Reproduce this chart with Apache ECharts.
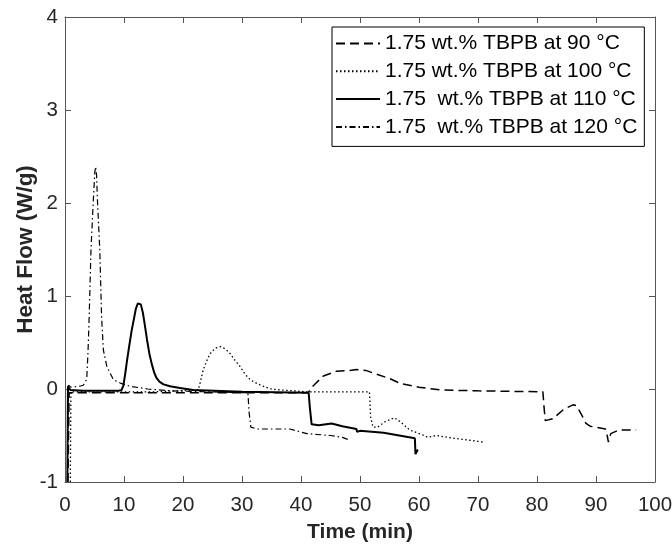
<!DOCTYPE html>
<html>
<head>
<meta charset="utf-8">
<script src="https://cdn.jsdelivr.net/npm/echarts@6/dist/echarts.min.js"></script>
<style>
html,body{margin:0;padding:0;background:#fff;}
#chart{width:672px;height:544px;}
</style>
</head>
<body>
<div id="chart"></div>
<script>
// Tick values
var xTicks = [0, 10, 20, 30, 40, 50, 60, 70, 80, 90, 100];
var yTicks = [-1, 0, 1, 2, 3, 4];

var seriesNames = [
  '1.75 wt.% TBPB at 90 \u00B0C',
  '1.75 wt.% TBPB at 100 \u00B0C',
  '1.75  wt.% TBPB at 110 \u00B0C',
  '1.75  wt.% TBPB at 120 \u00B0C'
];

// [time (min), heat flow (W/g)]
var data90 = [[0.5,-1],[0.7,-0.04],[5,-0.04],[20,-0.04],[41.2,-0.04],[42,0.03],[43.8,0.14],[46,0.19],[48.3,0.2],[49.4,0.21],[51,0.2],[52.3,0.17],[55.1,0.11],[56.8,0.06],[60,0.02],[63.6,-0.01],[70,-0.02],[81,-0.03],[81.2,-0.2],[81.4,-0.34],[82.7,-0.32],[84.5,-0.22],[86.1,-0.17],[86.7,-0.18],[87.5,-0.27],[88.3,-0.37],[89,-0.4],[91.6,-0.43],[91.9,-0.5],[92.1,-0.57],[92.5,-0.48],[93.9,-0.44],[96.8,-0.44]];

var data100 = [[0.9,-1],[1.0,-0.03],[5,-0.03],[15,-0.03],[22.6,-0.01],[23.0,0.09],[23.4,0.2],[24.0,0.3],[24.6,0.38],[25.5,0.44],[26.4,0.455],[27.2,0.43],[28,0.38],[28.8,0.31],[29.7,0.24],[30.5,0.16],[31.4,0.1],[32.5,0.06],[33.6,0.03],[35,0.0],[36.4,-0.01],[41,-0.03],[51.6,-0.03],[51.8,-0.3],[52.2,-0.41],[53,-0.41],[54.3,-0.35],[55.8,-0.31],[56.8,-0.35],[58.4,-0.44],[60.9,-0.5],[61.5,-0.52],[62.9,-0.5],[66,-0.53],[70.8,-0.57]];

var data110 = [[0.4,-1],[0.5,0.03],[0.9,-0.01],[3,-0.02],[9,-0.02],[9.6,-0.01],[9.9,0.04],[10.2,0.16],[10.5,0.3],[10.9,0.47],[11.3,0.63],[11.7,0.76],[12.0,0.86],[12.35,0.92],[12.6,0.93],[12.85,0.91],[13.2,0.82],[13.5,0.7],[13.9,0.53],[14.3,0.38],[14.7,0.27],[15.1,0.18],[15.5,0.12],[16.0,0.08],[16.7,0.05],[17.8,0.03],[19.5,0.01],[21.7,-0.01],[30,-0.03],[41.3,-0.04],[41.5,-0.2],[41.8,-0.38],[43,-0.39],[45.2,-0.37],[47,-0.4],[49.4,-0.43],[49.5,-0.46],[49.7,-0.44],[50,-0.45],[54,-0.47],[59.3,-0.53],[59.4,-0.7],[59.6,-0.69],[59.8,-0.65]];

var data120 = [[0.4,-1],[0.6,0.04],[1,0.02],[2.5,0.03],[3.1,0.04],[3.5,0.08],[3.7,0.13],[3.9,0.4],[4.1,0.78],[4.4,1.49],[4.8,2.03],[5.05,2.33],[5.2,2.39],[5.35,2.3],[5.5,2.03],[5.9,1.49],[6.2,0.78],[6.5,0.42],[7.1,0.24],[8.2,0.1],[9.5,0.06],[11,0.03],[14,0.0],[18,-0.02],[24,-0.03],[31,-0.04],[31.2,-0.25],[31.5,-0.41],[32.5,-0.43],[36,-0.43],[38.1,-0.43],[41,-0.48],[45,-0.5],[47,-0.52],[48.3,-0.55]];

var FONT = 'Liberation Sans, Arial, sans-serif';
var AXIS_COLOR = '#555';
var TEXT_COLOR = '#262626';

var chart = echarts.init(document.getElementById('chart'), null, {renderer: 'canvas'});

function mkX(pos, showLabel) {
  return {
    type: 'value', position: pos, min: xTicks[0], max: xTicks[xTicks.length - 1], interval: 10,
    name: showLabel ? 'Time (min)' : '', nameLocation: 'middle', nameGap: 40, nameMoveOverlap: false,
    nameTextStyle: {fontFamily: FONT, fontSize: 21, fontWeight: 'bold', color: TEXT_COLOR},
    axisLine: {show: true, onZero: false, lineStyle: {color: AXIS_COLOR, width: 1}},
    axisTick: {show: true, inside: true, length: 6, lineStyle: {color: AXIS_COLOR}},
    axisLabel: {show: showLabel, fontFamily: FONT, fontSize: 20.5, color: TEXT_COLOR, margin: 13},
    splitLine: {show: false}
  };
}
function mkY(pos, showLabel) {
  return {
    type: 'value', position: pos, min: yTicks[0], max: yTicks[yTicks.length - 1], interval: 1,
    name: showLabel ? 'Heat Flow (W/g)' : '', nameLocation: 'middle', nameGap: 28, nameRotate: 90, nameMoveOverlap: false,
    nameTextStyle: {fontFamily: FONT, fontSize: 22.5, fontWeight: 'bold', color: TEXT_COLOR},
    axisLine: {show: true, onZero: false, lineStyle: {color: AXIS_COLOR, width: 1}},
    axisTick: {show: true, inside: true, length: 6, lineStyle: {color: AXIS_COLOR}},
    axisLabel: {show: showLabel, fontFamily: FONT, fontSize: 20.5, color: TEXT_COLOR, margin: 7},
    splitLine: {show: false}
  };
}

function mkSeries(name, data, width, dash, xi) {
  return {
    name: name, type: 'line', data: data, xAxisIndex: 0, yAxisIndex: 0,
    symbol: 'none', showSymbol: false, smooth: false,
    lineStyle: {color: '#000', width: width, type: dash},
    itemStyle: {color: '#000'},
    z: 3 + xi
  };
}

chart.setOption({
  animation: false,
  backgroundColor: '#fff',
  grid: {left: 65, right: 17, top: 17, bottom: 62, containLabel: false, outerBoundsMode: 'none'},
  xAxis: [mkX('bottom', true), mkX('top', false)],
  yAxis: [mkY('left', true), mkY('right', false)],
  legend: {
    show: true, orient: 'vertical', left: 332, top: 27,
    itemWidth: 44, itemHeight: 21, itemGap: 6.8,
    padding: [6, 7, 9, 3],
    borderColor: '#000', borderWidth: 1, backgroundColor: '#fff',
    itemStyle: {color: 'rgba(0,0,0,0)', borderColor: 'rgba(0,0,0,0)', borderWidth: 0},
    textStyle: {fontFamily: FONT, fontSize: 21, color: '#000'},
    data: seriesNames
  },
  series: [
    mkSeries(seriesNames[0], data90, 1.5, [9, 5], 0),
    mkSeries(seriesNames[1], data100, 1.3, [1.5, 2.5], 1),
    mkSeries(seriesNames[2], data110, 2, 'solid', 2),
    mkSeries(seriesNames[3], data120, 1.2, [6, 3, 1.5, 3], 3)
  ]
});
</script>
</body>
</html>
